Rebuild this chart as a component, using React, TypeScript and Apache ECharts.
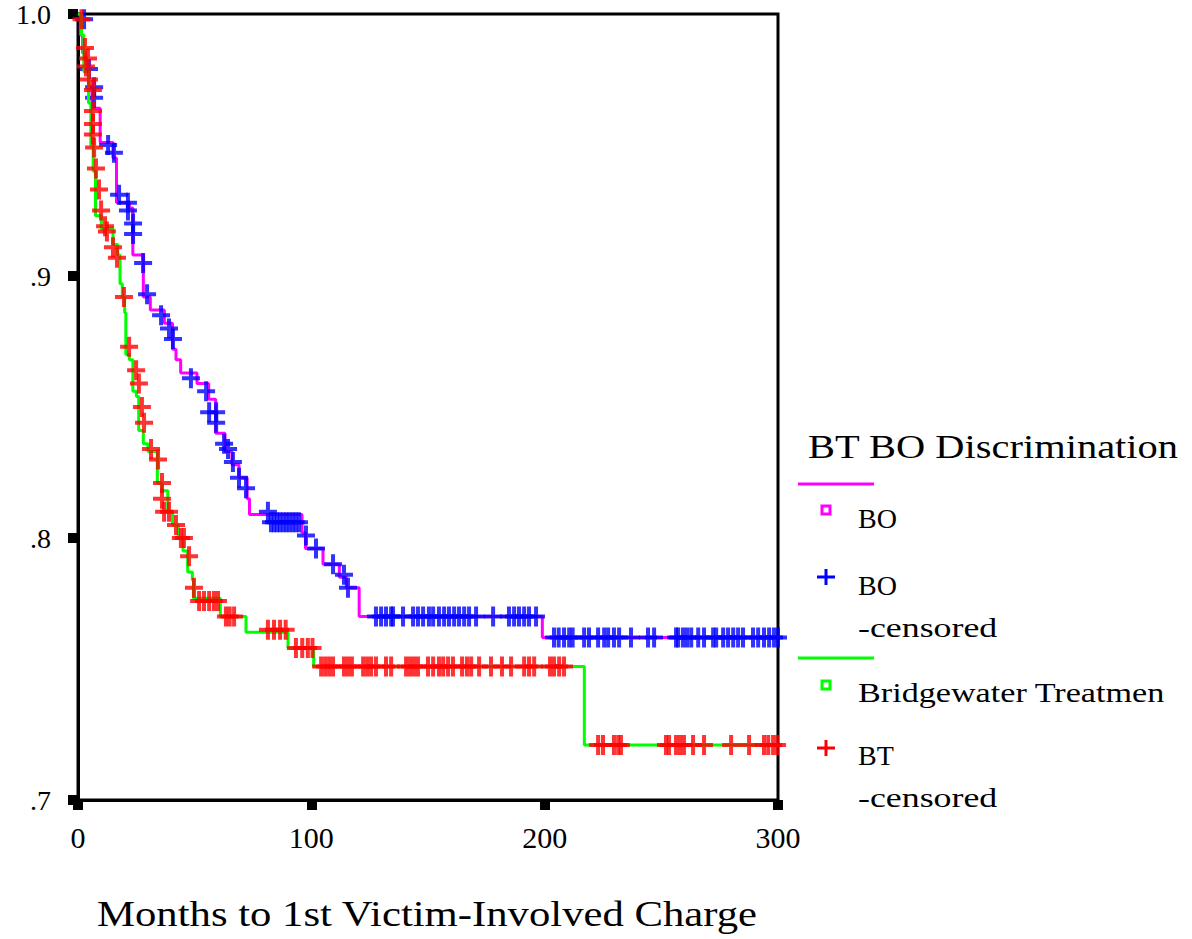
import React, { useEffect, useRef } from 'react';
import * as echarts from 'echarts';

// ---- Tick labels ----
const xTickLabels = ['0', '100', '200', '300'];
const yTickLabels = ['.7', '.8', '.9', '1.0'];

// ---- Legend texts ----
const legendTitle = 'BT BO Discrimination';
const xAxisTitle = 'Months to 1st Victim-Involved Charge';

// ---- BO survival steps (months, cumulative survival after the step) ----
const boTimes = [0, 1, 2, 3, 4.5, 6, 9.5, 15, 16.5, 22, 23.5, 28, 31, 37, 40.5, 42, 44, 51, 56, 59, 63, 66, 69, 72.5, 73.5, 96, 97.5, 105, 112, 115, 120.5, 199, 300];
const boSurv = [1.0, 0.992, 0.985, 0.978, 0.972, 0.964, 0.951, 0.945, 0.928, 0.926, 0.908, 0.892, 0.887, 0.882, 0.872, 0.868, 0.863, 0.859, 0.853, 0.840, 0.833, 0.828, 0.823, 0.815, 0.809, 0.802, 0.796, 0.790, 0.785, 0.781, 0.770, 0.762, 0.762];

// ---- BT survival steps ----
const btTimes = [0, 1.5, 2.5, 4.5, 5.5, 6.5, 7.5, 10, 15, 17, 18, 19, 20, 20.5, 22, 23.5, 25, 26, 28, 30, 34, 36, 38.5, 40.5, 43, 45, 47, 49, 49.5, 61, 72, 90, 101, 217, 300];
const btSurv = [1.0, 0.992, 0.978, 0.966, 0.95, 0.94, 0.923, 0.918, 0.912, 0.908, 0.897, 0.892, 0.886, 0.870, 0.868, 0.856, 0.854, 0.841, 0.836, 0.833, 0.821, 0.818, 0.810, 0.805, 0.800, 0.795, 0.787, 0.784, 0.777, 0.770, 0.764, 0.758, 0.751, 0.721, 0.721];

// ---- BO censored marks ----
const boCensoredEarly: [number, number][] = [
  [2.6, 0.998], [4.7, 0.979], [6.9, 0.972], [6.9, 0.968], [12.9, 0.950], [15.4, 0.947],
  [17.6, 0.931], [21.4, 0.928], [21.4, 0.925], [23.6, 0.920], [23.6, 0.916], [27.9, 0.905],
  [29.6, 0.893], [35.6, 0.885], [39, 0.880], [40.7, 0.876], [48.4, 0.861], [54.9, 0.856],
  [56.2, 0.848], [59.2, 0.848], [59.2, 0.844], [62.6, 0.836], [64.3, 0.834], [66.4, 0.829],
  [69, 0.823], [72, 0.819], [81.4, 0.810], [97.7, 0.801], [102, 0.796], [109.3, 0.790],
  [114, 0.786], [115.7, 0.781],
];
const boLevel806 = 0.806;
const boCensored806 = [82.7, 84, 85.3, 86.6, 88, 89.3, 90.6, 92, 93.3, 94.7];
const boLevel770 = 0.770;
const boCensored770 = [127.7, 129.9, 132, 134.2, 135, 139.3, 143.6, 145.7, 147.9, 150.4, 152.2, 154.7, 156.9, 159, 161.2, 163.3, 165.5, 167.6, 170.6, 177.9, 184.7, 186.9, 189, 191.2, 193.3, 196.3];
const boLevel762 = 0.762;
const boCensored762 = [204, 206, 208.3, 210.5, 212, 216.9, 219, 222.9, 225.5, 227.2, 229.7, 231.9, 237, 244.3, 246.9, 256.3, 257.2, 259.3, 261, 262.8, 265.8, 268.3, 272.2, 273.5, 276.5, 278.6, 280.8, 282.9, 285, 289.3, 291.5, 294, 296.2, 298.3, 300];

// ---- BT censored marks ----
const btCensoredEarly: [number, number][] = [
  [1.5, 0.998], [3, 0.987], [3.4, 0.980], [4.3, 0.983], [4.7, 0.975], [6.4, 0.971], [6.4, 0.963],
  [6.4, 0.958], [6.4, 0.954], [6.9, 0.949], [7.7, 0.941], [9, 0.933], [9.9, 0.925], [11.6, 0.919],
  [12.4, 0.917], [15, 0.911], [16.7, 0.907], [19.7, 0.892], [21.9, 0.873], [24.9, 0.864],
  [26.1, 0.859], [27.4, 0.850], [28.3, 0.844], [31.3, 0.834], [34.3, 0.830], [36, 0.821],
  [36, 0.815], [36.9, 0.810], [39, 0.810], [42, 0.805], [44.1, 0.800], [45.4, 0.800],
  [47.6, 0.793], [49.7, 0.781],
];
const btLevel776 = 0.776;
const btCensored776 = [51.9, 54, 56.2, 58.3, 60];
const btLevel770 = 0.770;
const btCensored770 = [63.4, 65, 66.9];
const btLevel765 = 0.765;
const btCensored765 = [81.4, 84, 86.6, 89];
const btLevel758 = 0.758;
const btCensored758 = [93.4, 96.1, 98.5, 100.5];
const btLevel751 = 0.751;
const btCensored751 = [104.2, 105.9, 107.6, 109.3, 114, 115.7, 117.4, 122.2, 123.9, 125.6, 127.7, 132, 134.2, 140.6, 142.3, 144, 145.7, 150, 152.2, 154.7, 156.5, 158.6, 160.7, 164.6, 166.7, 168.5, 171.9, 177, 181.7, 185.6, 191.2, 193.3, 195.5, 202.3, 204, 206.2, 208.3];
const btLevel721 = 0.721;
const btCensored721 = [222.9, 225, 229.7, 231.5, 232.7, 252, 253.3, 256.3, 258, 259.7, 263.6, 268.3, 279.9, 287.6, 294, 295.8, 297.9, 299.6];

const MAGENTA = '#ff00ff';
const BLUE = '#0000ff';
const GREEN = '#00ff00';
const RED = '#ff0000';
const FONT = 'Liberation Serif';
const PLUS = 'path://M7,0 H11 V8 H18 V12 H11 V20 H7 V12 H0 V8 H7 Z';

const zip = (xs: number[], ys: number[]) => xs.map((x, i) => [x, ys[i]]);
const atLevel = (xs: number[], level: number) => xs.map((x) => [x, level]);

export default function App() {
  const ref = useRef<HTMLDivElement>(null);

  useEffect(() => {
    if (!ref.current) return;
    const chart = echarts.init(ref.current, undefined, { renderer: 'svg' });

    const boCens = [
      ...boCensoredEarly,
      ...atLevel(boCensored806, boLevel806),
      ...atLevel(boCensored770, boLevel770),
      ...atLevel(boCensored762, boLevel762),
    ];
    const btCens = [
      ...btCensoredEarly,
      ...atLevel(btCensored776, btLevel776),
      ...atLevel(btCensored770, btLevel770),
      ...atLevel(btCensored765, btLevel765),
      ...atLevel(btCensored758, btLevel758),
      ...atLevel(btCensored751, btLevel751),
      ...atLevel(btCensored721, btLevel721),
    ];

    const legendText = (text: string, y: number, scaleX: number) => ({
      type: 'text',
      x: 858,
      y,
      scaleX,
      style: {
        text,
        fill: '#000',
        fontSize: 28,
        fontFamily: FONT,
        align: 'left',
        verticalAlign: 'middle',
        textAlign: 'left',
        textVerticalAlign: 'middle',
      },
    });

    const plusMark = (cy: number, color: string) => ({
      type: 'group',
      children: [
        { type: 'line', shape: { x1: 817, y1: cy, x2: 835, y2: cy }, style: { stroke: color, lineWidth: 3 } },
        { type: 'line', shape: { x1: 826, y1: cy - 8, x2: 826, y2: cy + 8 }, style: { stroke: color, lineWidth: 3 } },
      ],
    });

    const option: any = {
      animation: false,
      backgroundColor: '#ffffff',
      grid: {
        left: 78,
        right: 1192 - 778,
        top: 12,
        bottom: 939 - 800,
        show: true,
        borderColor: '#000',
        borderWidth: 3,
        backgroundColor: 'transparent',
      },
      xAxis: {
        type: 'value',
        min: 0,
        max: 300,
        interval: 100,
        axisLine: { show: true, lineStyle: { color: '#000', width: 3 } },
        axisTick: { show: true, length: 10, lineStyle: { color: '#000', width: 10 } },
        splitLine: { show: false },
        axisLabel: {
          margin: 22,
          color: '#000',
          fontSize: 30,
          fontFamily: FONT,
          showMinLabel: true,
          showMaxLabel: true,
          formatter: (_v: number, i: number) => xTickLabels[i] ?? '',
        },
      },
      yAxis: {
        type: 'value',
        min: 0.7,
        max: 1.0,
        interval: 0.1,
        axisLine: { show: true, lineStyle: { color: '#000', width: 3 } },
        axisTick: { show: true, length: 10, lineStyle: { color: '#000', width: 10 } },
        splitLine: { show: false },
        axisLabel: {
          margin: 27,
          color: '#000',
          fontSize: 28,
          fontFamily: FONT,
          showMinLabel: true,
          showMaxLabel: true,
          formatter: (_v: number, i: number) => yTickLabels[i] ?? '',
        },
      },
      series: [
        {
          name: 'BO',
          type: 'line',
          step: 'end',
          data: zip(boTimes, boSurv),
          symbol: 'none',
          lineStyle: { color: MAGENTA, width: 3 },
          z: 2,
        },
        {
          name: 'BO -censored',
          type: 'scatter',
          data: boCens,
          symbol: PLUS,
          symbolSize: [18, 20],
          itemStyle: { color: BLUE },
          z: 3,
        },
        {
          name: 'Bridgewater Treatmen',
          type: 'line',
          step: 'end',
          data: zip(btTimes, btSurv),
          symbol: 'none',
          lineStyle: { color: GREEN, width: 3 },
          z: 4,
        },
        {
          name: 'BT -censored',
          type: 'scatter',
          data: btCens,
          symbol: PLUS,
          symbolSize: [18, 20],
          itemStyle: { color: RED },
          z: 5,
        },
      ],
      graphic: [
        {
          type: 'text',
          x: 427,
          y: 914,
          scaleX: 1.22,
          style: {
            text: xAxisTitle,
            fill: '#000',
            fontSize: 35,
            fontFamily: FONT,
            align: 'center',
            verticalAlign: 'middle',
            textAlign: 'center',
            textVerticalAlign: 'middle',
          },
        },
        {
          type: 'text',
          x: 993,
          y: 447,
          scaleX: 1.19,
          style: {
            text: legendTitle,
            fill: '#000',
            fontSize: 34,
            fontFamily: FONT,
            align: 'center',
            verticalAlign: 'middle',
            textAlign: 'center',
            textVerticalAlign: 'middle',
          },
        },
        { type: 'line', shape: { x1: 798, y1: 484, x2: 874, y2: 484 }, style: { stroke: MAGENTA, lineWidth: 3 } },
        { type: 'rect', shape: { x: 822, y: 506, width: 8, height: 8 }, style: { fill: '#fff', stroke: MAGENTA, lineWidth: 3 } },
        legendText('BO', 518, 1),
        plusMark(577, BLUE),
        legendText('BO', 585, 1),
        legendText('-censored', 627, 1.28),
        { type: 'line', shape: { x1: 798, y1: 658, x2: 874, y2: 658 }, style: { stroke: GREEN, lineWidth: 3 } },
        { type: 'rect', shape: { x: 822, y: 681, width: 8, height: 8 }, style: { fill: '#fff', stroke: GREEN, lineWidth: 3 } },
        legendText('Bridgewater Treatmen', 693, 1.22),
        plusMark(748, RED),
        legendText('BT', 755, 1),
        legendText('-censored', 797, 1.28),
      ],
    };

    chart.setOption(option);
    return () => chart.dispose();
  }, []);

  return (
    <div
      ref={ref}
      style={{ position: 'absolute', left: 0, top: 0, width: 1192, height: 939, background: '#fff' }}
    />
  );
}
